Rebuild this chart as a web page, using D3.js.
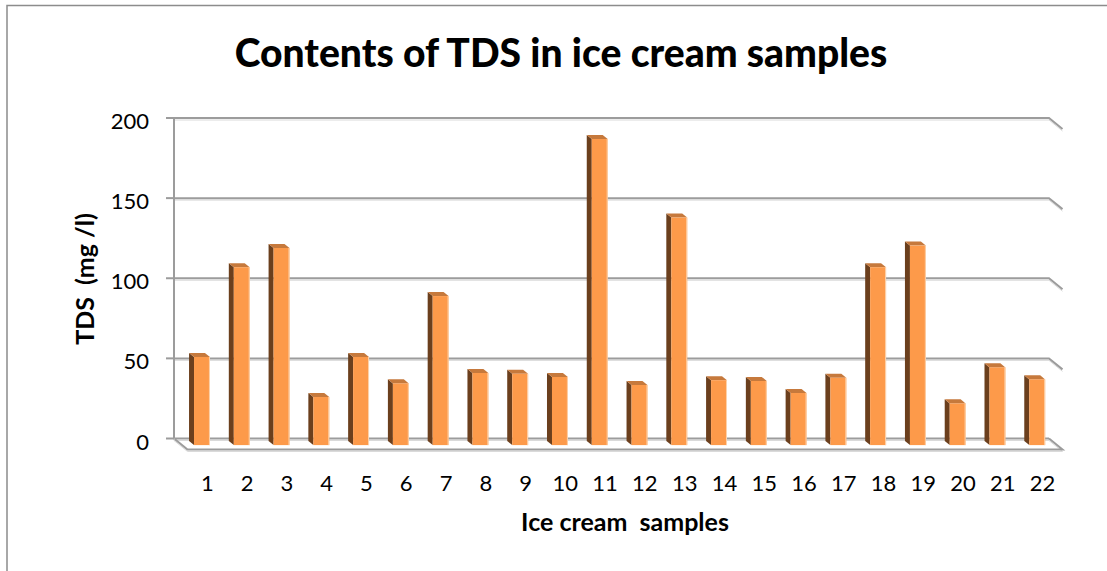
<!DOCTYPE html>
<html>
<head>
<meta charset="utf-8">
<script src="https://cdn.jsdelivr.net/npm/d3@7"></script>
<style>
  body { margin: 0; background: #fff; }
  svg { display: block; font-family: Lato, "Open Sans", sans-serif; }
</style>
</head>
<body>
<div id="chart"></div>
<script>
const width = 1107;
const height = 571;

// data
const samples = ["1", "2", "3", "4", "5", "6", "7", "8", "9", "10", "11",
                 "12", "13", "14", "15", "16", "17", "18", "19", "20", "21", "22"];
const tds = [55, 111, 123, 30, 55, 38.5, 93, 45, 44.5, 42.5, 191,
             37.5, 142, 40.5, 40, 32.5, 42, 111, 124.5, 26, 48.5, 41];
const yTicks = [0, 50, 100, 150, 200];

// back wall of the 3d box, and how far the floor comes forward
const wall = { left: 174, right: 1049, top: 118, bottom: 438.5 };
const depth = { dx: 13.5, dy: 11 };
const barFront = 0.6, barBack = 0.23;   // fraction of the floor depth

const svg = d3.select('#chart')
    .append('svg')
    .attr('width', width)
    .attr('height', height);

// outer chart frame
svg.append('path')
    .attr('d', `M7,${height} L7,5.5 L${width},5.5`)
    .style('fill', 'none')
    .style('stroke', '#8c8c8c')
    .style('stroke-width', 1.5);

const x = d3.scaleBand()
    .domain(samples)
    .range([wall.left, wall.right]);

const y = d3.scaleLinear()
    .domain([0, 200])
    .range([wall.bottom, wall.top]);

const grid = svg.append('g');

function gridLine(pts) {
    const l = d3.line();
    grid.append('path')
        .attr('d', l(pts.map(p => [p[0], p[1] + 2])))
        .style('fill', 'none')
        .style('stroke', '#dadada')
        .style('stroke-width', 1);
    grid.append('path')
        .attr('d', l(pts))
        .style('fill', 'none')
        .style('stroke', '#9c9c9c')
        .style('stroke-width', 2);
}

// back gridlines running out onto the right side wall
yTicks.forEach(t => {
    if (t === 0) return;
    gridLine([[wall.left, y(t)], [wall.right, y(t)], [wall.right + depth.dx, y(t) + depth.dy]]);
});

// floor
gridLine([[wall.left, y(0)], [wall.right, y(0)]]);
gridLine([[wall.left, y(0)], [wall.left + depth.dx, y(0) + depth.dy],
          [wall.right + depth.dx, y(0) + depth.dy], [wall.right, y(0)]]);

// value axis
gridLine([[wall.left, y(200)], [wall.left, y(0)]]);
yTicks.forEach(t => {
    grid.append('line')
        .attr('x1', wall.left - 8).attr('x2', wall.left)
        .attr('y1', y(t)).attr('y2', y(t))
        .style('stroke', '#9c9c9c')
        .style('stroke-width', 2);
});

svg.append('g').selectAll('text')
    .data(yTicks)
    .enter()
    .append('text')
    .attr('x', 149)
    .attr('y', d => y(d) + 11)
    .attr('text-anchor', 'end')
    .style('font-size', '22px')
    .style('fill', '#000')
    .text(d => d);

// bars: front face, dark left side, lighter top
const barW = x.bandwidth() * 0.4;
const fx = barFront * depth.dx, fy = barFront * depth.dy;
const sx = (barFront - barBack) * depth.dx, sy = (barFront - barBack) * depth.dy;

const bars = svg.append('g').selectAll('g')
    .data(tds.map((v, i) => ({ name: samples[i], value: v })))
    .enter()
    .append('g');

bars.each(function (d) {
    const g = d3.select(this);
    const x0 = x(d.name) + x.bandwidth() / 2 - barW / 2 + fx;
    const x1 = x0 + barW;
    const yb = y(0) + fy;
    const yt = y(d.value) + fy;

    g.append('path')
        .attr('d', `M${x0},${yb} L${x0},${yt} L${x0 - sx},${yt - sy} L${x0 - sx},${yb - sy} Z`)
        .style('fill', '#6b3f1d');
    g.append('path')
        .attr('d', `M${x0},${yt} L${x1},${yt} L${x1 - sx},${yt - sy} L${x0 - sx},${yt - sy} Z`)
        .style('fill', '#c6793c');
    g.append('rect')
        .attr('x', x0)
        .attr('y', yt)
        .attr('width', barW)
        .attr('height', yb - yt)
        .style('fill', '#fd9a4a');
    g.append('line')
        .attr('x1', x1 - 0.5).attr('x2', x1 - 0.5)
        .attr('y1', yt).attr('y2', yb)
        .style('stroke', '#fcd3ad')
        .style('stroke-width', 1);
});

// category labels sit on the front edge of the floor
svg.append('g').selectAll('text')
    .data(samples)
    .enter()
    .append('text')
    .attr('x', d => x(d) + x.bandwidth() / 2 + depth.dx)
    .attr('y', 491)
    .attr('text-anchor', 'middle')
    .style('font-size', '22px')
    .style('fill', '#000')
    .text(d => d);

svg.append('text')
    .attr('x', 561)
    .attr('y', 67)
    .attr('text-anchor', 'middle')
    .style('font-size', '39px')
    .style('font-weight', '900')
    .text('Contents of TDS in ice cream samples');

svg.append('text')
    .attr('transform', 'translate(94,279) rotate(-90)')
    .attr('text-anchor', 'middle')
    .style('font-size', '25px')
    .style('font-weight', 'bold')
    .style('white-space', 'pre')
    .text('TDS  (mg /l)');

svg.append('text')
    .attr('x', 625)
    .attr('y', 531)
    .attr('text-anchor', 'middle')
    .style('font-size', '25px')
    .style('font-weight', 'bold')
    .style('white-space', 'pre')
    .text('Ice cream  samples');
</script>
</body>
</html>
